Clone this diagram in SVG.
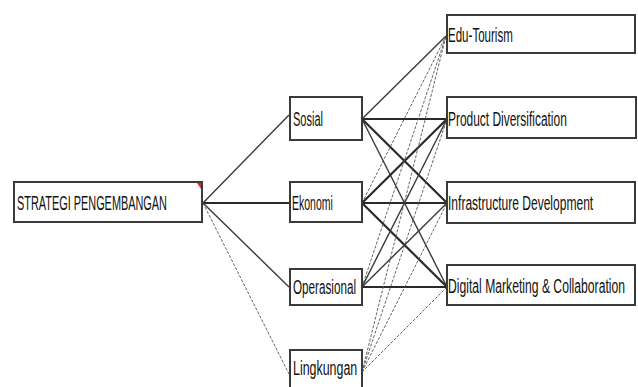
<svg xmlns="http://www.w3.org/2000/svg" width="638" height="387" viewBox="0 0 638 387">
<style>
.box{fill:#fff;stroke:#3a3a3a;stroke-width:2}
.t{font-family:"Liberation Sans",Arial,sans-serif;font-size:20px;fill:#111}
.thick{stroke:#2a2a2a;stroke-width:2.2;fill:none}
.med{stroke:#3a3a3a;stroke-width:1.4;fill:none}
.thin{stroke:#555;stroke-width:0.9;fill:none;stroke-dasharray:3 1.5}
</style>
<rect width="638" height="387" fill="#fff"/>
<g id="connectors">
<line class="med" x1="203" y1="203" x2="289" y2="115"/>
<line class="thick" x1="203" y1="203" x2="289" y2="203"/>
<line class="med" x1="203" y1="203" x2="289" y2="287"/>
<line class="thin" x1="203" y1="203" x2="289" y2="374"/>
<line class="med" x1="362" y1="119" x2="446" y2="36"/>
<line class="thick" x1="362" y1="119" x2="447" y2="119"/>
<line class="thick" x1="362" y1="119" x2="447" y2="203"/>
<line class="med" x1="362" y1="119" x2="447" y2="287"/>
<line class="thin" x1="362" y1="203" x2="446" y2="36"/>
<line class="thick" x1="362" y1="203" x2="447" y2="119"/>
<line class="thick" x1="362" y1="203" x2="447" y2="203"/>
<line class="thick" x1="362" y1="203" x2="447" y2="287"/>
<line class="thin" x1="362" y1="287" x2="446" y2="36"/>
<line class="med" x1="362" y1="287" x2="447" y2="119"/>
<line class="med" x1="362" y1="287" x2="447" y2="203"/>
<line class="thick" x1="362" y1="287" x2="447" y2="287"/>
<line class="thin" x1="362" y1="372" x2="446" y2="36"/>
<line class="thin" x1="362" y1="372" x2="447" y2="119"/>
<line class="thin" x1="362" y1="372" x2="447" y2="203"/>
<line class="thin" x1="362" y1="372" x2="447" y2="287"/>
</g>
<g id="strategi">
<rect class="box" x="14" y="182" width="188" height="40"/>
<polygon points="197,183 201,183 201,189" fill="#d03030"/>
<text class="t" transform="translate(17,210) scale(0.6,1)" textLength="250" lengthAdjust="spacingAndGlyphs">STRATEGI PENGEMBANGAN</text>
</g>
<g id="sosial">
<rect class="box" x="290" y="97" width="72" height="43"/>
<text class="t" transform="translate(293,126) scale(0.6,1)" textLength="50" lengthAdjust="spacingAndGlyphs">Sosial</text>
</g>
<g id="ekonomi">
<rect class="box" x="290" y="182" width="72" height="40"/>
<text class="t" transform="translate(292,210) scale(0.6,1)" textLength="68" lengthAdjust="spacingAndGlyphs">Ekonomi</text>
</g>
<g id="operasional">
<rect class="box" x="290" y="269" width="72" height="36"/>
<text class="t" transform="translate(293,294) scale(0.6,1)" textLength="105" lengthAdjust="spacingAndGlyphs">Operasional</text>
</g>
<g id="lingkungan">
<rect class="box" x="290" y="350" width="72" height="38"/>
<text class="t" transform="translate(293,375) scale(0.6,1)" textLength="107" lengthAdjust="spacingAndGlyphs">Lingkungan</text>
</g>
<g id="edu">
<rect class="box" x="447" y="15" width="188" height="38"/>
<text class="t" transform="translate(448,42) scale(0.6,1)" textLength="108" lengthAdjust="spacingAndGlyphs">Edu-Tourism</text>
</g>
<g id="product">
<rect class="box" x="447" y="97" width="189" height="41"/>
<text class="t" transform="translate(448,126) scale(0.6,1)" textLength="198" lengthAdjust="spacingAndGlyphs">Product Diversification</text>
</g>
<g id="infra">
<rect class="box" x="447" y="182" width="188" height="41"/>
<text class="t" transform="translate(448,210) scale(0.6,1)" textLength="242" lengthAdjust="spacingAndGlyphs">Infrastructure Development</text>
</g>
<g id="digital">
<rect class="box" x="447" y="265" width="188" height="40"/>
<text class="t" transform="translate(448,293) scale(0.6,1)" textLength="295" lengthAdjust="spacingAndGlyphs">Digital Marketing &amp; Collaboration</text>
</g>
</svg>
